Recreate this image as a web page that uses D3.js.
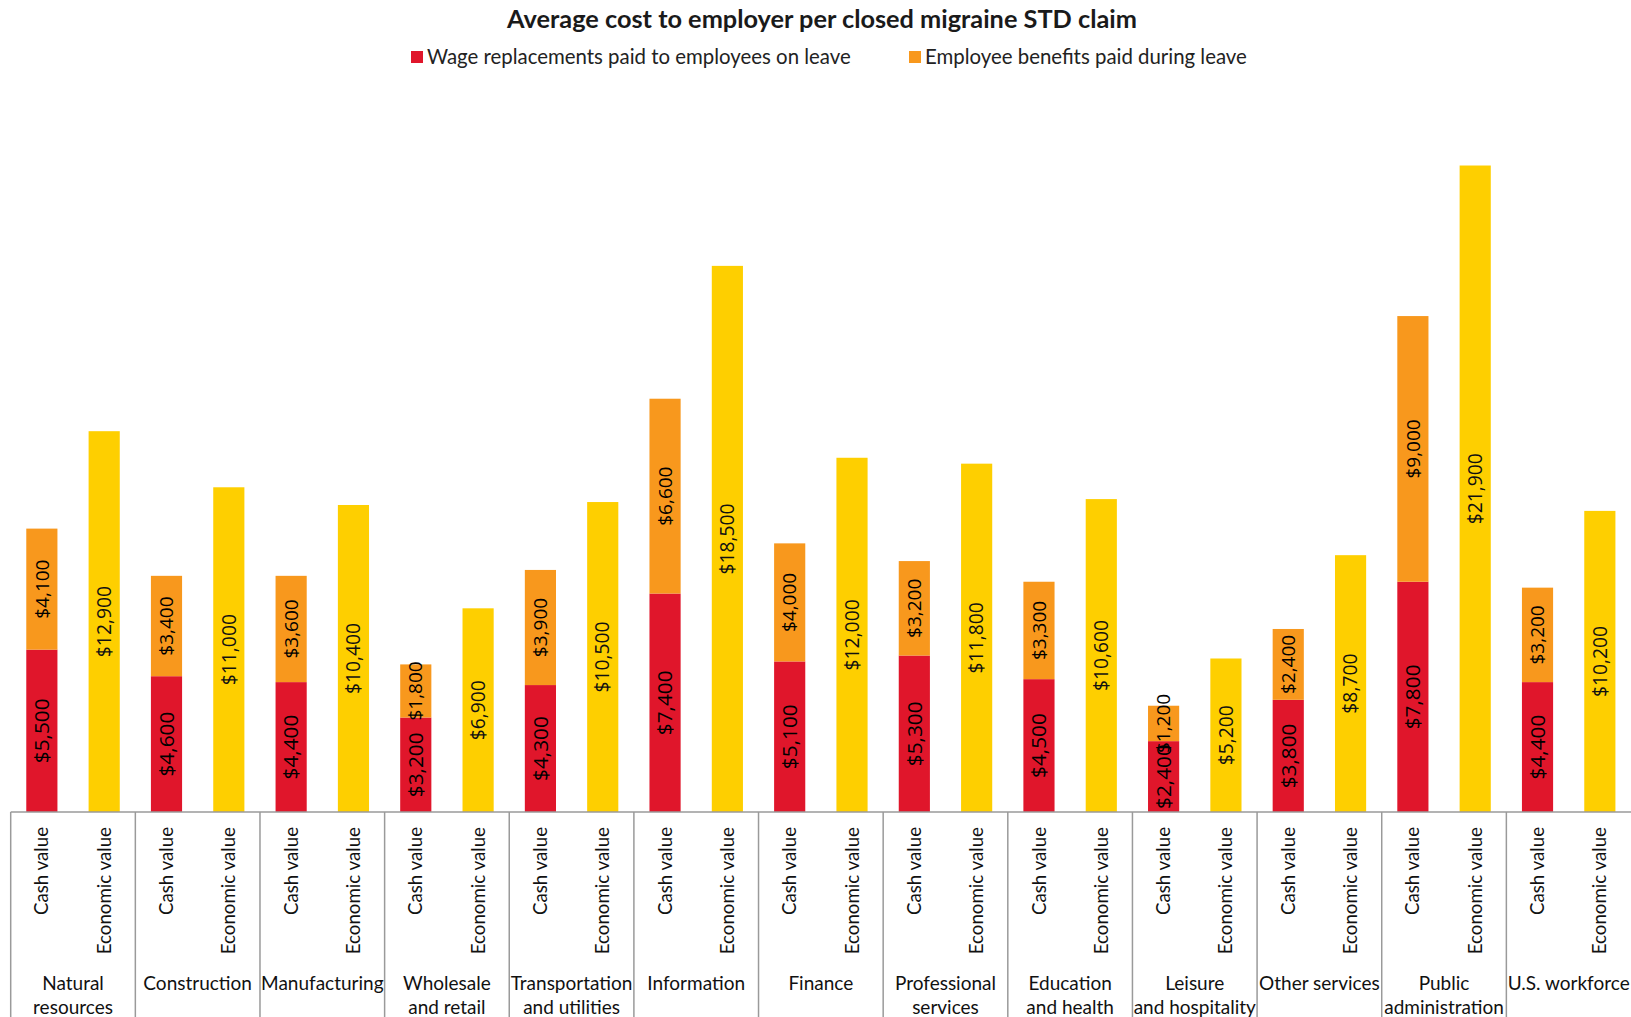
<!DOCTYPE html>
<html>
<head>
<meta charset="utf-8">
<script src="https://cdn.jsdelivr.net/npm/d3@7"></script>
<style>
  body { margin: 0; background: #fff; }
  svg { display: block; }
</style>
</head>
<body>
<div id="chart"></div>
<script>
// data
var industries = ["Natural resources", "Construction", "Manufacturing", "Wholesale and retail",
  "Transportation and utilities", "Information", "Finance", "Professional services",
  "Education and health", "Leisure and hospitality", "Other services",
  "Public administration", "U.S. workforce"];
var industryLines = [["Natural", "resources"], ["Construction"], ["Manufacturing"], ["Wholesale", "and retail"],
  ["Transportation", "and utilities"], ["Information"], ["Finance"], ["Professional", "services"],
  ["Education", "and health"], ["Leisure", "and hospitality"], ["Other services"],
  ["Public", "administration"], ["U.S. workforce"]];
var subCats = ["Cash value", "Economic value"];
var wages = [5500, 4600, 4400, 3200, 4300, 7400, 5100, 5300, 4500, 2400, 3800, 7800, 4400];
var benefits = [4100, 3400, 3600, 1800, 3900, 6600, 4000, 3200, 3300, 1200, 2400, 9000, 3200];
var economic = [12900, 11000, 10400, 6900, 10500, 18500, 12000, 11800, 10600, 5200, 8700, 21900, 10200];
var legendLabels = ["Wage replacements paid to employees on leave", "Employee benefits paid during leave"];

var W = 1631, H = 1017;
var red = "#e0162b", orange = "#f8981d", yellow = "#fecf00";
var fmt = d3.format(",");

var svg = d3.select("#chart").append("svg")
  .attr("width", W).attr("height", H);

var x0 = d3.scaleBand().domain(industries).range([10.7, W]).padding(0);
var x1 = d3.scaleBand().domain(subCats).range([0, x0.bandwidth()])
  .paddingInner(0.5).paddingOuter(0.25);
var y = d3.scaleLinear().domain([0, 25000]).range([812, 74]);

// title
svg.append("text")
  .attr("x", 822).attr("y", 28)
  .attr("text-anchor", "middle")
  .style("font-family", "Lato").style("font-size", "25.3px").style("font-weight", "bold")
  .style("fill", "#1a1a1a")
  .text("Average cost to employer per closed migraine STD claim");

// legend
var legX = [411, 909];
[red, orange].forEach(function(c, i) {
  svg.append("rect").attr("x", legX[i]).attr("y", 51).attr("width", 12).attr("height", 12).attr("fill", c);
  svg.append("text").attr("x", legX[i] + 16).attr("y", 64)
    .style("font-family", "Lato").style("font-size", "20.4px").style("fill", "#222")
    .text(legendLabels[i]);
});

// stacked cash bars
var rows = industries.map(function(d, i) { return {ind: d, wage: wages[i], benefits: benefits[i], econ: economic[i]}; });
var stack = d3.stack().keys(["wage", "benefits"])(rows);
var colors = {wage: red, benefits: orange};

var g = svg.append("g");
stack.forEach(function(layer) {
  layer.forEach(function(s) {
    var bx = x0(s.data.ind) + x1("Cash value");
    g.append("rect")
      .attr("x", bx).attr("width", x1.bandwidth())
      .attr("y", y(s[1])).attr("height", y(s[0]) - y(s[1]))
      .attr("fill", colors[layer.key]);
    var cx = bx + x1.bandwidth() / 2, cy = (y(s[0]) + y(s[1])) / 2;
    g.append("text")
      .attr("transform", "translate(" + cx + "," + cy + ") rotate(-90)")
      .attr("text-anchor", "middle").attr("dy", "0.35em")
      .style("font-family", "Open Sans")
      .style("font-size", layer.key == "wage" ? "20.8px" : "19px")
      .style("fill", "#000")
      .text("$" + fmt(s[1] - s[0]));
  });
});

// economic value bars
rows.forEach(function(d) {
  var bx = x0(d.ind) + x1("Economic value");
  g.append("rect")
    .attr("x", bx).attr("width", x1.bandwidth())
    .attr("y", y(d.econ)).attr("height", y(0) - y(d.econ))
    .attr("fill", yellow);
  var cx = bx + x1.bandwidth() / 2, cy = (y(0) + y(d.econ)) / 2;
  g.append("text")
    .attr("transform", "translate(" + cx + "," + cy + ") rotate(-90)")
    .attr("text-anchor", "middle").attr("dy", "0.35em")
    .style("font-family", "Open Sans").style("font-size", "19.3px")
    .style("fill", "#111")
    .text("$" + fmt(d.econ));
});

// axis: baseline + group separators
var axis = svg.append("g");
axis.append("line")
  .attr("x1", x0.range()[0]).attr("x2", W)
  .attr("y1", y(0)).attr("y2", y(0))
  .attr("stroke", "#9a9a9a").attr("stroke-width", 1.5);
industries.forEach(function(d) {
  axis.append("line")
    .attr("x1", x0(d)).attr("x2", x0(d))
    .attr("y1", y(0)).attr("y2", H)
    .attr("stroke", "#9a9a9a").attr("stroke-width", 1.5);
});

// sub labels
industries.forEach(function(d, i) {
  subCats.forEach(function(s) {
    var cx = x0(d) + x1(s) + x1.bandwidth() / 2;
    axis.append("text")
      .attr("transform", "translate(" + cx + ",827) rotate(-90)")
      .attr("text-anchor", "end").attr("dy", "0.35em")
      .style("font-family", "Lato").style("font-size", "18.7px").style("fill", "#111")
      .text(s);
  });
  var t = axis.append("text")
    .attr("x", x0(d) + x0.bandwidth() / 2).attr("y", 990)
    .attr("text-anchor", "middle")
    .style("font-family", "Lato").style("font-size", "19px").style("fill", "#111");
  industryLines[i].forEach(function(line, j) {
    t.append("tspan").attr("x", x0(d) + x0.bandwidth() / 2).attr("dy", j == 0 ? 0 : 24).text(line);
  });
});
</script>
</body>
</html>
